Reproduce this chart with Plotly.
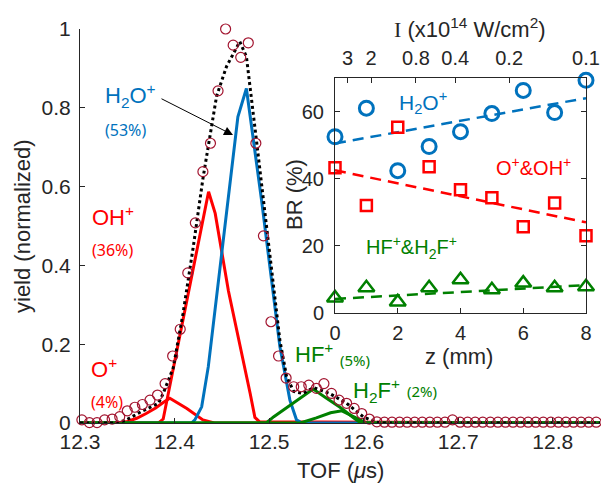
import plotly.graph_objects as go

W, H = 601, 487
FONT = "Liberation Sans, Arial, sans-serif"
AXC = "#262626"

# ---------------- main panel data ----------------
tof = [12.302, 12.310, 12.318, 12.326, 12.334, 12.342, 12.350, 12.358, 12.366, 12.374,
       12.382, 12.390, 12.398, 12.406, 12.414, 12.422, 12.430, 12.438, 12.446, 12.454,
       12.462, 12.470, 12.478, 12.486, 12.494, 12.502, 12.510, 12.518, 12.526, 12.534,
       12.542, 12.550, 12.558, 12.566, 12.574, 12.582, 12.590, 12.598, 12.606, 12.614,
       12.622, 12.630, 12.638, 12.646, 12.654, 12.662, 12.670, 12.678, 12.686, 12.694,
       12.702, 12.710, 12.718, 12.726, 12.734, 12.742, 12.750, 12.758, 12.766, 12.774,
       12.782, 12.790, 12.798, 12.806, 12.814, 12.822, 12.830, 12.838, 12.846]
yield_exp = [0.008, 0.001, 0.001, 0.008, 0.010, 0.016, 0.031, 0.040, 0.047, 0.058,
             0.071, 0.100, 0.170, 0.238, 0.381, 0.508, 0.638, 0.710, 0.843, 1.000,
             0.959, 0.928, 0.965, 0.710, 0.475, 0.257, 0.170, 0.114, 0.092, 0.092,
             0.096, 0.088, 0.100, 0.075, 0.058, 0.050, 0.037, 0.024, 0.010, 0.003,
             0.002, 0.002, 0.002, 0.002, 0.002, 0.002, 0.002, 0.002, 0.002, 0.008,
             0.002, 0.002, 0.002, 0.002, 0.002, 0.002, 0.002, 0.002, 0.002, 0.002,
             0.002, 0.002, 0.002, 0.002, 0.002, 0.002, 0.002, 0.002, 0.002]

o_x = [12.30, 12.340, 12.350, 12.360, 12.370, 12.380, 12.388, 12.395, 12.413, 12.430, 12.442, 12.85]
o_y = [0, 0, 0.004, 0.012, 0.024, 0.038, 0.052, 0.063, 0.037, 0.008, 0, 0]

oh_x = [12.30, 12.383, 12.388, 12.436, 12.443, 12.457, 12.480, 12.485, 12.490, 12.85]
oh_y = [0, 0, 0.010, 0.587, 0.532, 0.335, 0.075, 0.014, 0.003, 0]

h2o_x = [12.30, 12.418, 12.4215, 12.4287, 12.4357, 12.457, 12.467, 12.476, 12.492, 12.5114, 12.522, 12.529, 12.535, 12.85]
h2o_y = [0, 0, 0.008, 0.041, 0.143, 0.574, 0.777, 0.849, 0.566, 0.194, 0.058, 0.008, 0, 0]

hf_x = [12.30, 12.497, 12.505, 12.520, 12.535, 12.5466, 12.560, 12.575, 12.590, 12.597, 12.85]
hf_y = [0, 0, 0.016, 0.042, 0.066, 0.086, 0.064, 0.040, 0.012, 0, 0]

h2f_x = [12.30, 12.533, 12.550, 12.565, 12.577, 12.590, 12.603, 12.85]
h2f_y = [0, 0, 0.013, 0.026, 0.031, 0.016, 0, 0]

tot_x = [12.30, 12.335, 12.3476, 12.365, 12.383, 12.388, 12.3986, 12.409, 12.4198, 12.430,
         12.4445, 12.455, 12.469, 12.476, 12.487, 12.494, 12.5114, 12.5185, 12.526, 12.536,
         12.547, 12.564, 12.582, 12.5995, 12.612, 12.620, 12.85]
tot_y = [0, 0, 0.006, 0.029, 0.050, 0.075, 0.140, 0.278, 0.447, 0.620,
         0.830, 0.905, 0.968, 0.930, 0.710, 0.566, 0.210, 0.118, 0.080, 0.075,
         0.090, 0.075, 0.050, 0.016, 0.003, 0, 0]

# ---------------- inset data ----------------
z_mm = [0, 1, 2, 3, 4, 5, 6, 7, 8]
br_h2o = [52.5, 61.0, 42.4, 49.6, 54.0, 59.4, 66.3, 59.7, 69.3]
br_ooh = [43.3, 32.0, 55.3, 43.6, 36.7, 34.3, 25.7, 32.8, 23.0]
br_hf = [4.5, 7.5, 3.3, 7.5, 9.9, 6.9, 8.9, 7.5, 7.8]
fit_z = [0, 8]
fit_h2o = [50.5, 64.0]
fit_ooh = [42.5, 27.0]
fit_hf = [4.2, 8.3]
int_pos = [0.40, 1.15, 2.58, 3.83, 5.55, 8.0]
int_labels = ["3", "2", "0.8", "0.4", "0.2", "0.1"]

BLUE = "#0072BD"
RED = "#FF0000"
GREEN = "#008000"
CIRC = "#A2142F"

fig = go.Figure()

def line(x, y, color, width=3, dash="solid"):
    fig.add_trace(go.Scatter(x=x, y=y, mode="lines", line=dict(color=color, width=width, dash=dash),
                             xaxis="x", yaxis="y", showlegend=False, hoverinfo="skip"))

line(oh_x, oh_y, RED)
line(o_x, o_y, RED)
line(h2o_x, h2o_y, BLUE)
line(hf_x, hf_y, GREEN)
line(h2f_x, h2f_y, GREEN)
line(tot_x, tot_y, "black", 3, "dot")
fig.add_trace(go.Scatter(x=tof, y=yield_exp, mode="markers", cliponaxis=False,
                         marker=dict(symbol="circle-open", size=10, color=CIRC, line=dict(width=1.2, color=CIRC)),
                         xaxis="x", yaxis="y", showlegend=False))

# inset
for fy, col in [(fit_h2o, BLUE), (fit_ooh, RED), (fit_hf, GREEN)]:
    fig.add_trace(go.Scatter(x=fit_z, y=fy, mode="lines", line=dict(color=col, width=2.5, dash="11px,7px"),
                             xaxis="x2", yaxis="y2", showlegend=False))
fig.add_trace(go.Scatter(x=z_mm, y=br_h2o, mode="markers", cliponaxis=False,
                         marker=dict(symbol="circle-open", size=14, color=BLUE, line=dict(width=3, color=BLUE)),
                         xaxis="x2", yaxis="y2", showlegend=False))
fig.add_trace(go.Scatter(x=z_mm, y=br_ooh, mode="markers", cliponaxis=False,
                         marker=dict(symbol="square-open", size=11, color=RED, line=dict(width=2.5, color=RED)),
                         xaxis="x2", yaxis="y2", showlegend=False))
fig.add_trace(go.Scatter(x=z_mm, y=br_hf, mode="markers", cliponaxis=False,
                         marker=dict(symbol="triangle-up-open", size=14, color=GREEN, line=dict(width=2.5, color=GREEN)),
                         xaxis="x2", yaxis="y2", showlegend=False))
fig.add_trace(go.Scatter(x=[0, 8], y=[None, None], xaxis="x3", yaxis="y2", showlegend=False, mode="lines"))

def px(x, y):
    return x / W, 1 - y / H

axcommon = dict(showgrid=False, zeroline=False, showline=True, linecolor=AXC, linewidth=1, automargin=False,
                ticks="inside", ticklen=5, tickcolor=AXC, tickfont=dict(family=FONT, size=21, color=AXC))
inset_font = dict(family=FONT, size=20, color=AXC)

fig.update_layout(
    width=W, height=H, margin=dict(l=0, r=0, t=0, b=0, pad=0, autoexpand=False),
    paper_bgcolor="white", plot_bgcolor="rgba(0,0,0,0)",
    xaxis=dict(domain=[80 / W, 600 / W], range=[12.3, 12.85], tickvals=[12.3, 12.4, 12.5, 12.6, 12.7, 12.8],
               ticktext=["12.3", "12.4", "12.5", "12.6", "12.7", "12.8"], anchor="y", ticklabelstandoff=0, **axcommon),
    yaxis=dict(domain=[64 / H, 458 / H], range=[0, 1], tickvals=[0, 0.2, 0.4, 0.6, 0.8, 1],
               ticktext=["0", "0.2", "0.4", "0.6", "0.8", "1"], anchor="x", ticklabelstandoff=4, **axcommon),
    xaxis2=dict(domain=[335 / W, 586 / W], range=[0, 8], tickvals=[0, 2, 4, 6, 8], anchor="y2",
                ticklabelstandoff=2, **{**axcommon, "tickfont": inset_font}),
    yaxis2=dict(domain=[(H - 313) / H, (H - 78) / H], range=[0, 70], tickvals=[0, 20, 40, 60], anchor="x2",
                mirror="ticks", ticklabelstandoff=6, **{**axcommon, "tickfont": inset_font}),
    xaxis3=dict(overlaying="x2", side="top", anchor="y2", range=[0, 8], tickvals=int_pos, ticktext=int_labels,
                ticklabelstandoff=4, **{**axcommon, "tickfont": inset_font}),
)

ann = []
def text(t, x, y, color, size, xanchor="left", yanchor="middle", family=FONT, angle=0):
    xp, yp = px(x, y)
    ann.append(dict(text=t, x=xp, y=yp, xref="paper", yref="paper", showarrow=False, xanchor=xanchor,
                    yanchor=yanchor, textangle=angle, font=dict(family=family, size=size, color=color)))

PFONT = "Noto Sans, sans-serif"
text("H<sub>2</sub>O<sup>+</sup>", 103, 95, BLUE, 22)
text("(53%)", 103, 130, BLUE, 16, family=PFONT)
text("OH<sup>+</sup>", 90, 216, RED, 22)
text("(36%)", 90, 250, RED, 16, family=PFONT)
text("O<sup>+</sup>", 89, 368, RED, 22)
text("(4%)", 89, 402, RED, 16, family=PFONT)
text("HF<sup>+</sup>", 293, 353, GREEN, 22)
text("(5%)", 338, 360, GREEN, 15, family=PFONT)
text("H<sub>2</sub>F<sup>+</sup>", 351, 390, GREEN, 22)
text("(2%)", 405, 391, GREEN, 15, family=PFONT)

text("H<sub>2</sub>O<sup>+</sup>", 423, 103, BLUE, 21, xanchor="center")
text("O<sup>+</sup>&OH<sup>+</sup>", 533, 166, RED, 20, xanchor="center")
text("HF<sup>+</sup>&H<sub>2</sub>F<sup>+</sup>", 412, 247, GREEN, 20, xanchor="center")

text("yield (normalized)", 22, 226, AXC, 22, xanchor="center", angle=-90)
text("TOF (<i>μ</i>s)", 340, 470, AXC, 22, xanchor="center")
text("BR (%)", 294, 195, AXC, 22, xanchor="center", angle=-90)
text("z (mm)", 459, 356, AXC, 22, xanchor="center")
text("<span style='font-family:Liberation Serif'>I</span> (x10<sup>14</sup> W/cm<sup>2</sup>)", 470, 28, AXC, 22, xanchor="center")

hx, hy = px(233, 135)
ann.append(dict(x=hx, y=hy, xref="paper", yref="paper", ax=160 - 233, ay=98 - 135, axref="pixel", ayref="pixel",
                showarrow=True, arrowhead=2, arrowsize=1.8, arrowwidth=1, arrowcolor="black", text=""))

fig.update_layout(annotations=ann)
fig.write_html("out.html", config={"displayModeBar": False},
               post_script="document.body.style.margin='0px';document.body.style.overflow='hidden';")
